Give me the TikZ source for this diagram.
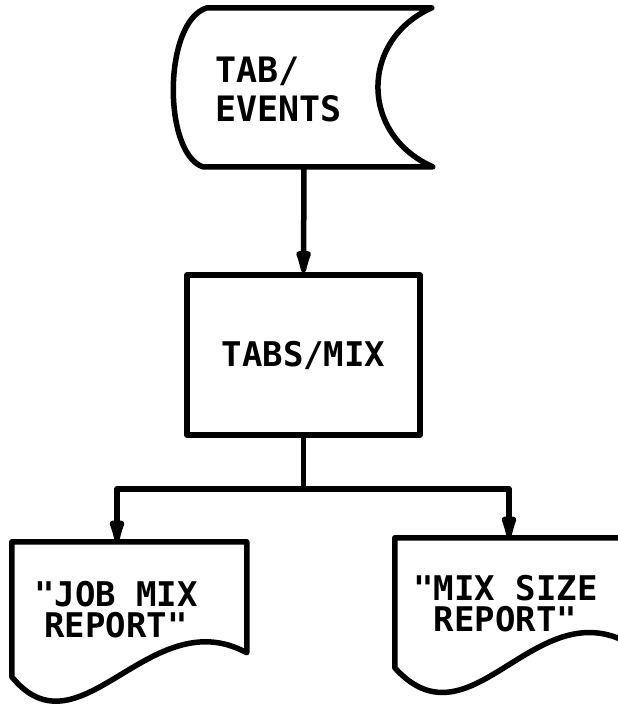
\documentclass[tikz,border=0pt]{standalone}
\usepackage{fontspec}
\newfontfamily\lettering{DejaVu Sans Mono Bold}
\usetikzlibrary{arrows.meta}

\tikzset{
	flowline/.style = {black, line width = 5.5pt, line join = round, line cap = round},
	flowarrow/.style = {flowline, -{Latex[length = 36pt, width = 17pt, round]}},
	letters/.style = {font = {\lettering\fontsize{34}{31.5}\selectfont}, align = center},
	tabfile/.style = {minimum width = 258pt, minimum height = 159pt, inner sep = 0pt},
	procbox/.style = {draw, flowline, minimum width = 233pt, minimum height = 160pt, inner sep = 0pt, letters},
	report/.style = {minimum width = 235pt, minimum height = 135pt, inner sep = 0pt}
}

\begin{document}
\begin{tikzpicture}[x = 1pt, y = -1pt]
					\useasboundingbox (0, 0) rectangle (618, 705);
					\clip (0, 0) rectangle (618, 705);
					% input file
					\node [tabfile, label = {[letters, align = left, xshift = -25.5pt, yshift = -2pt, font = {\lettering\fontsize{35}{39}\selectfont}]center:{TAB/\\EVENTS}}] (events) at (304, 87.5) {};
					\begin{scope}[shift = {(events.north west)}]
						\draw [flowline] (32, 0) -- (257, 0) .. controls (185, 32) and (185, 127) .. (258, 159) -- (28, 159) .. controls (-12, 145) and (-12, 14) .. cycle;
					\end{scope}
					% program
					\node [procbox] (mix) at (303.5, 355) {TABS/MIX};
					\draw [flowarrow] (events.south) -- (mix.north);
					% reports
					\node [report, label = {[letters, xshift = -13.5pt]center:{"JOB MIX\\REPORT"}}] (jobmix) at (129.5, 609.5) {};
					\node [report, label = {[letters, xshift = -7pt, yshift = 2pt]center:{"MIX SIZE\\REPORT"}}] (sizemix) at (512.5, 605.5) {};
					\begin{scope}[shift = {(jobmix.north west)}]
						\draw [flowline] (0, 0) -- (235, 0) -- (235, 111) .. controls (138, 58) and (68, 218) .. (0, 135) -- cycle;
					\end{scope}
					\begin{scope}[shift = {(sizemix.north west)}]
						\draw [flowline] (0, 0) -- (235, 0) -- (235, 106) .. controls (140, 52) and (76, 214) .. (0, 130) -- cycle;
					\end{scope}
					\draw [flowline] (mix.south) -- ++(0, 51) coordinate (split);
					\draw [flowarrow] (split) -| ([xshift = -12.5pt] jobmix.north);
					\draw [flowarrow] (split) -| ([xshift = -3.5pt] sizemix.north);
				\end{tikzpicture}
\end{document}
